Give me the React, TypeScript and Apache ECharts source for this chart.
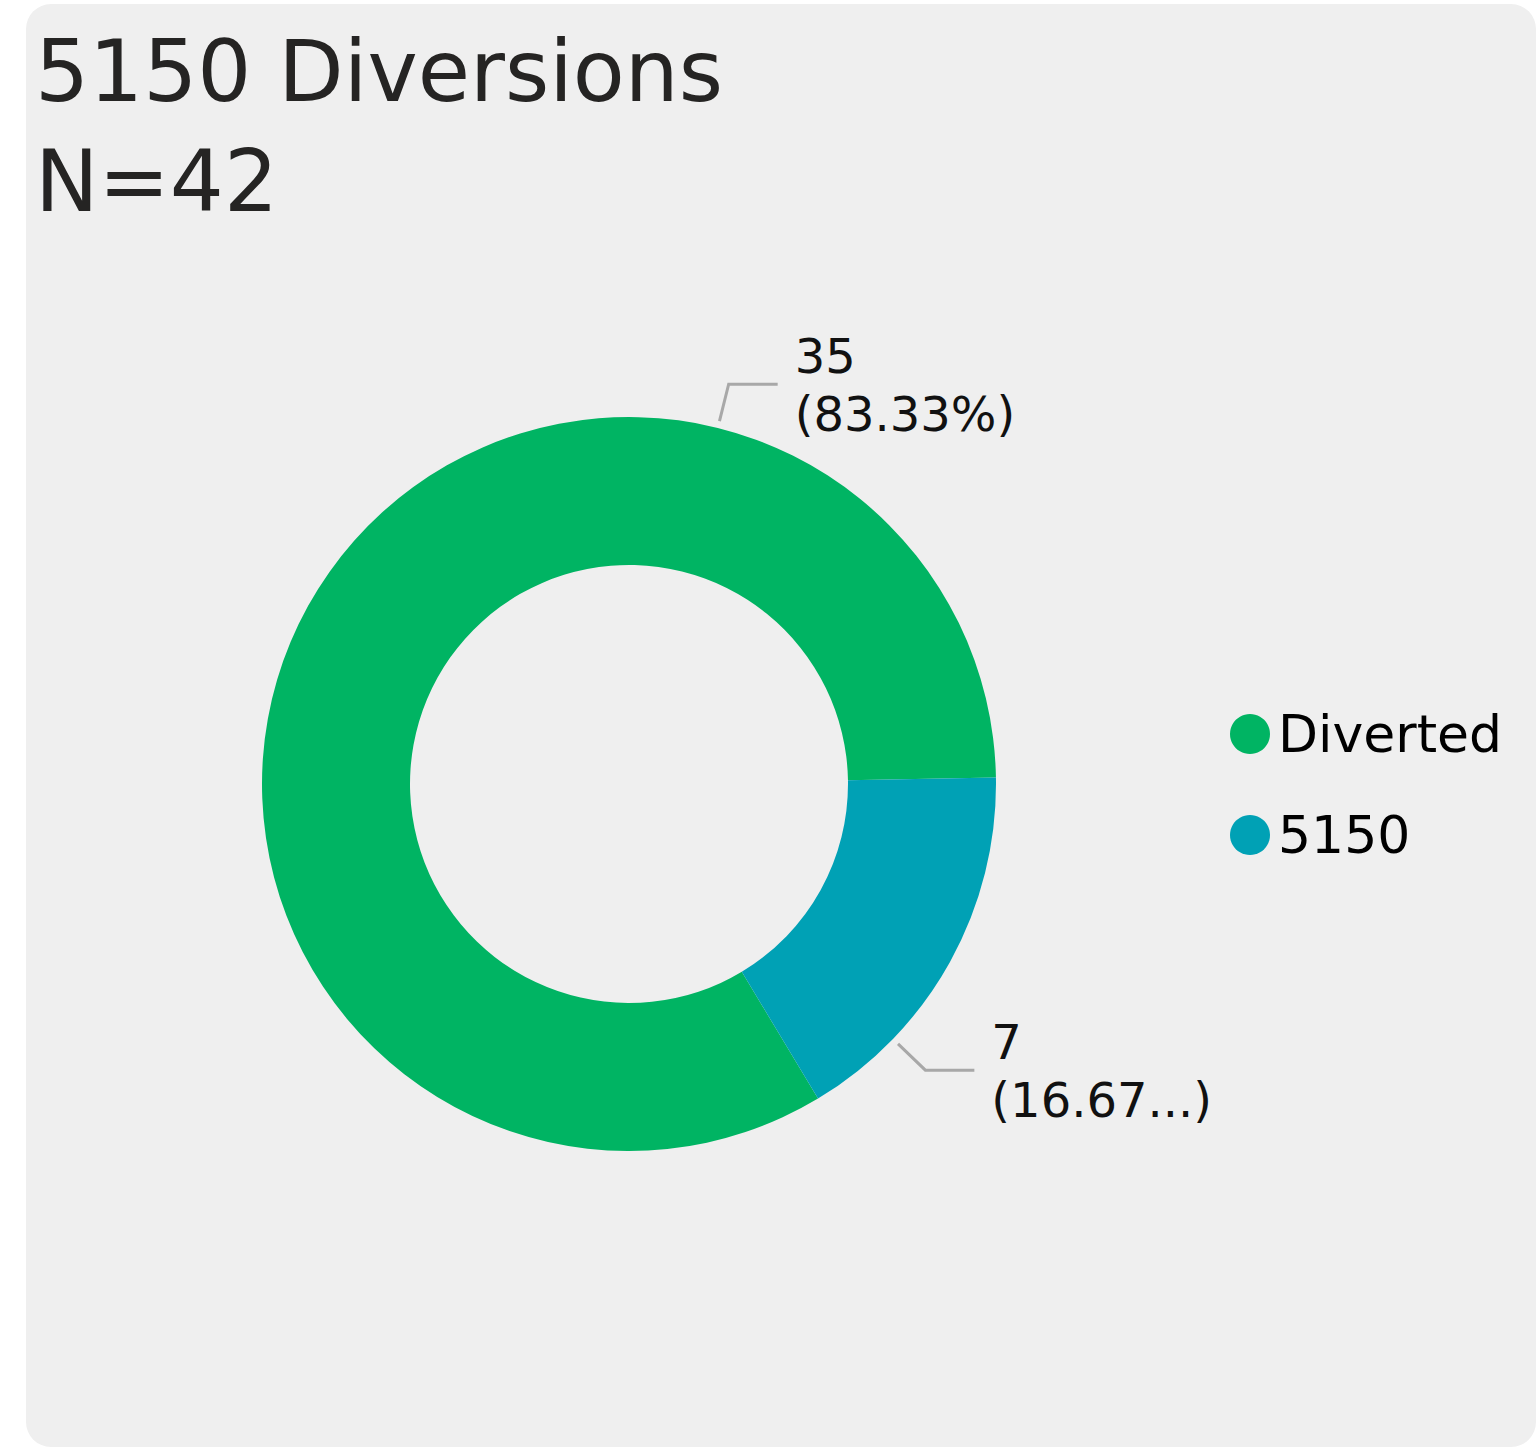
import React, { useEffect, useRef } from "react";
import * as echarts from "echarts";

const categories = ["Diverted", "5150"];
const values = [35, 7];
const colors = ["#00B463", "#00A1B5"];
const titleLines = ["5150 Diversions", "N=42"];
// label anchor angles (deg) on the ring, and which labels are shown truncated
const labelAngles = [76, -44];
const labelTruncated = [false, true];

const CX = 629;
const CY = 784;
const R_OUT = 367;
const R_IN = 219;
const FONT = "'DejaVu Sans', Verdana, sans-serif";

export default function App() {
  const ref = useRef<HTMLDivElement>(null);
  useEffect(() => {
    if (!ref.current) return;
    const chart = echarts.init(ref.current, undefined, { renderer: "svg" });
    const total = values.reduce((a, b) => a + b, 0);
    chart.setOption({
      animation: false,
      backgroundColor: "#ffffff",
      graphic: [
        {
          type: "rect",
          z: -10,
          silent: true,
          shape: { x: 26, y: 4, width: 1510, height: 1443, r: 25 },
          style: { fill: "#efefef" },
        },
      ],
      title: {
        text: titleLines.join("\n"),
        left: 35,
        top: 16,
        padding: 0,
        textStyle: {
          fontFamily: FONT,
          fontSize: 85,
          lineHeight: 110,
          fontWeight: "normal",
          color: "#252423",
        },
      },
      legend: {
        orient: "vertical",
        left: 1230,
        top: 704,
        icon: "circle",
        itemWidth: 40,
        itemHeight: 40,
        itemGap: 41,
        padding: 0,
        data: categories,
        textStyle: {
          fontFamily: FONT,
          fontSize: 52,
          lineHeight: 60,
          color: "#000000",
          padding: [0, 0, 0, 3],
        },
      },
      series: [
        {
          type: "pie",
          center: [CX, CY],
          radius: [R_IN, R_OUT],
          startAngle: 301,
          clockwise: true,
          avoidLabelOverlap: false,
          data: categories.map((name, i) => ({
            name,
            value: values[i],
            itemStyle: { color: colors[i] },
          })),
          label: {
            show: true,
            position: "outside",
            fontFamily: FONT,
            fontSize: 48,
            lineHeight: 58,
            color: "#111111",
            formatter: (p: any) => {
              const pct = ((p.value / total) * 100).toFixed(2);
              return labelTruncated[p.dataIndex]
                ? `${p.value}\n(${pct.slice(0, 5)}...)`
                : `${p.value}\n(${pct}%)`;
            },
          },
          labelLine: {
            show: true,
            lineStyle: { color: "#a8a8a8", width: 3 },
          },
          labelLayout: (params: any) => {
            const a = (labelAngles[params.dataIndex] * Math.PI) / 180;
            const dx = Math.cos(a);
            const dy = -Math.sin(a);
            const p0 = [CX + (R_OUT + 7) * dx, CY + (R_OUT + 7) * dy];
            const p1 = [CX + (R_OUT + 45) * dx, CY + (R_OUT + 45) * dy];
            const p2 = [p1[0] + 49, p1[1]];
            return {
              x: p2[0] + 17,
              y: p2[1] + 1,
              align: "left",
              verticalAlign: "middle",
              labelLinePoints: [p0, p1, p2],
            };
          },
        },
      ],
    });
    return () => chart.dispose();
  }, []);
  return (
    <div
      ref={ref}
      style={{ position: "absolute", left: 0, top: 0, width: 1536, height: 1447 }}
    />
  );
}
